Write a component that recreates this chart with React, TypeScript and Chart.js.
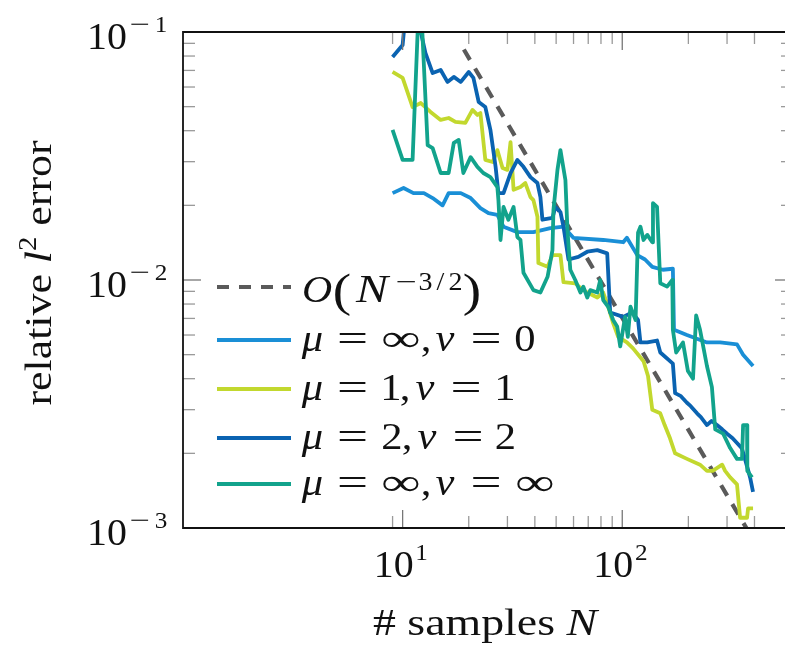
import { useEffect, useRef } from "react";
import { Chart, registerables } from "chart.js";

Chart.register(...registerables);

// ---------------- data ----------------
const refN = [19, 400];
const refErr = [0.085, 0.00088];

const infZeroN = [9.0, 10.1, 11.2, 12.5, 13.7, 15.2, 16.2, 18.4, 20.4, 22.6, 24.6, 27.0, 28.8, 33.3, 39.4, 47.1, 54.0, 59.9, 81.9, 101, 105, 117, 127, 137, 153, 170, 172, 197, 243, 279, 333, 355, 394];
const infZeroErr = [0.0224, 0.0235, 0.0224, 0.0224, 0.0214, 0.02, 0.0224, 0.0224, 0.0214, 0.0195, 0.0186, 0.0183, 0.0164, 0.0156, 0.0156, 0.0162, 0.0164, 0.0148, 0.0145, 0.0142, 0.0148, 0.0126, 0.0121, 0.0113, 0.011, 0.0111, 0.0063, 0.006, 0.0056, 0.0056, 0.0055, 0.005, 0.0045];

const oneOneN = [9.0, 10.0, 11.1, 12.1, 13.4, 14.9, 16.2, 17.4, 19.3, 20.8, 21.9, 22.6, 23.8, 25.7, 27.0, 28.5, 30.0, 31.0, 32.0, 34.4, 36.2, 38.2, 39.4, 41.1, 41.5, 45.7, 48.1, 52.3, 54.0, 61.1, 64.5, 69.3, 77.0, 81.9, 86.3, 90.9, 95.8, 105, 112, 125, 131, 137, 149, 156, 165, 174, 197, 226, 243, 258, 285, 294, 310, 333, 344, 370, 374, 394];
const oneOneErr = [0.069, 0.0653, 0.0498, 0.0517, 0.0476, 0.0442, 0.045, 0.0434, 0.043, 0.0485, 0.0463, 0.0471, 0.0305, 0.0299, 0.0334, 0.0283, 0.0278, 0.036, 0.0231, 0.0237, 0.0246, 0.0216, 0.021, 0.018, 0.0117, 0.0113, 0.0126, 0.0126, 0.0098, 0.0097, 0.0093, 0.0089, 0.0085, 0.0089, 0.0078, 0.0067, 0.0059, 0.0056, 0.0053, 0.0047, 0.0041, 0.003, 0.0029, 0.0026, 0.0023, 0.002, 0.0019, 0.0018, 0.0017, 0.0017, 0.0018, 0.0017, 0.0016, 0.0015, 0.0011, 0.0011, 0.0012, 0.0012];

const twoTwoN = [9.0, 10.0, 10.2, 11.1, 12.1, 12.7, 13.7, 14.9, 16.0, 17.1, 18.4, 20.0, 21.0, 22.2, 23.8, 25.1, 26.5, 27.3, 28.8, 31.0, 33.3, 35.5, 38.2, 41.1, 42.4, 43.3, 48.1, 49.6, 52.3, 54.0, 56.9, 63.1, 69.3, 77.0, 85.4, 88.1, 101, 111, 118, 121, 130, 144, 149, 170, 174, 185, 197, 205, 219, 228, 243, 255, 270, 285, 300, 318, 333, 350, 362, 382, 394];
const twoTwoErr = [0.0793, 0.0886, 0.107, 0.115, 0.1, 0.0823, 0.0683, 0.0703, 0.0629, 0.0659, 0.0629, 0.069, 0.0653, 0.0522, 0.0498, 0.0403, 0.0286, 0.0224, 0.0224, 0.027, 0.0305, 0.0286, 0.026, 0.0246, 0.0216, 0.0175, 0.0178, 0.0197, 0.0188, 0.0164, 0.0121, 0.0124, 0.013, 0.0132, 0.0128, 0.0074, 0.0071, 0.0074, 0.0069, 0.0056, 0.0056, 0.0057, 0.0051, 0.0046, 0.0035, 0.0034, 0.0032, 0.0031, 0.0029, 0.0028, 0.0026, 0.0027, 0.0026, 0.0025, 0.0024, 0.0023, 0.0022, 0.0021, 0.0019, 0.0016, 0.0014];

const infInfN = [9.0, 10.0, 11.1, 11.7, 12.3, 13.0, 13.7, 14.9, 16.2, 17.1, 18.0, 18.9, 20.4, 21.9, 23.3, 25.1, 27.0, 27.3, 27.9, 28.8, 30.3, 32.0, 33.3, 34.4, 35.5, 39.4, 42.4, 45.7, 48.1, 48.6, 50.7, 52.3, 55.1, 56.3, 58.0, 61.1, 64.5, 66.5, 69.3, 71.5, 77.0, 79.4, 81.9, 86.3, 90.9, 94.8, 97.9, 103, 106, 109, 115, 118, 121, 125, 130, 137, 138, 144, 149, 160, 169, 170, 176, 189, 199, 210, 217, 226, 231, 243, 256, 265, 288, 310, 333, 351, 355, 370, 371, 390];
const infInfErr = [0.0403, 0.0305, 0.0305, 0.0991, 0.0991, 0.035, 0.034, 0.027, 0.027, 0.0357, 0.0367, 0.027, 0.0313, 0.0286, 0.027, 0.026, 0.0237, 0.021, 0.0145, 0.0197, 0.0175, 0.0197, 0.0149, 0.0145, 0.0107, 0.0091, 0.0089, 0.0103, 0.0132, 0.0191, 0.0278, 0.0334, 0.0253, 0.0159, 0.011, 0.01, 0.0089, 0.0094, 0.0085, 0.0091, 0.0089, 0.01, 0.0083, 0.0078, 0.0069, 0.0065, 0.0054, 0.0071, 0.0059, 0.0078, 0.0069, 0.0155, 0.0164, 0.0145, 0.0152, 0.0142, 0.0204, 0.0197, 0.0097, 0.0094, 0.01, 0.0063, 0.0051, 0.0056, 0.0043, 0.004, 0.0072, 0.0063, 0.0057, 0.0045, 0.0037, 0.0025, 0.0024, 0.0021, 0.0019, 0.0019, 0.0026, 0.0026, 0.0017, 0.0016];

const seriesLabels = ["O(N^{-3/2})", "μ = ∞, ν = 0", "μ = 1, ν = 1", "μ = 2, ν = 2", "μ = ∞, ν = ∞"];
const seriesColors = ["#5a5a5a", "#1a8fd6", "#c2d82e", "#0a63b1", "#12a38c"];

const xMin = 1;
const xMax = 599;
const yMin = 0.001;
const yMax = 0.1;
const xMajorTicks = [10, 100];
const xMinorTicks = [9, 20, 30, 40, 50, 60, 70, 80, 90, 200, 300, 400];
const yMajorTicks = [0.01];
const yMinorTicks = [0.002, 0.003, 0.004, 0.005, 0.006, 0.007, 0.008, 0.009, 0.02, 0.03, 0.04, 0.05, 0.06, 0.07, 0.08, 0.09];
const xTickValues = [10, 100];
const xTickExps = ["1", "2"];
const yTickValues = [0.1, 0.01, 0.001];
const yTickExps = ["1", "2", "3"];
const xTitle = ["# samples ", "N"];
const yTitle = ["relative ", "l", "2", " error"];

// legend glyphs: [text, centre offset from text start, style]
const legendGlyphs: [string, number, string][][] = [
  [["O", 15, "i"], ["(", 40, "p"], ["N", 70, "i"], ["−", 104, "s"], ["3", 123.5, "s"], ["/", 138.5, "s"], ["2", 153.5, "s"], [")", 170, "p"]],
  [["μ", 10.5, "i"], ["=", 50.5, "r"], ["∞", 99, "r"], [",", 124, "r"], ["ν", 143, "i"], ["=", 184, "r"], ["0", 223, "r"]],
  [["μ", 10.5, "i"], ["=", 50.5, "r"], ["1", 89, "r"], [",", 103, "r"], ["ν", 123, "i"], ["=", 164, "r"], ["1", 203, "r"]],
  [["μ", 10.5, "i"], ["=", 50.5, "r"], ["2", 90, "r"], [",", 105, "r"], ["ν", 125, "i"], ["=", 166, "r"], ["2", 203.5, "r"]],
  [["μ", 10.5, "i"], ["=", 50.5, "r"], ["∞", 99, "r"], [",", 124, "r"], ["ν", 143, "i"], ["=", 184, "r"], ["∞", 233, "r"]],
];

// ---------------- drawing helpers ----------------
const FAM = '"Liberation Serif", "Times New Roman", serif';
const fnt = (size: number, italic?: boolean) => `${italic ? "italic " : ""}${size}px ${FAM}`;

function glyph(ctx: any, t: string, cx: number, by: number, size: number, italic = false, kx = 1, ky = 1) {
  ctx.save();
  ctx.translate(cx, by);
  ctx.scale(kx, ky);
  ctx.font = fnt(size, italic);
  ctx.textAlign = "center";
  ctx.textBaseline = "alphabetic";
  ctx.fillText(t, 0, 0);
  ctx.restore();
}

type Seg = { t: string; size: number; it?: boolean; dy?: number };
function drawRunFit(ctx: any, segs: Seg[], cx: number, by: number, targetW: number) {
  let w = 0;
  for (const s of segs) {
    ctx.font = fnt(s.size, s.it);
    w += ctx.measureText(s.t).width;
  }
  const k = targetW / w;
  ctx.save();
  ctx.translate(cx, by);
  ctx.scale(k, 1);
  ctx.textAlign = "left";
  ctx.textBaseline = "alphabetic";
  let x = -w / 2;
  for (const s of segs) {
    ctx.font = fnt(s.size, s.it);
    ctx.fillText(s.t, x, s.dy || 0);
    x += ctx.measureText(s.t).width;
  }
  ctx.restore();
}

const KX: Record<string, number> = { "=": 1.45, "∞": 1.45, "−": 1.5, "(": 1.2, ")": 1.2, N: 1.2, O: 1.1 };

const decorPlugin = {
  id: "decor",
  afterDraw(chart: any) {
    const { ctx, chartArea: a, scales } = chart;
    const xs = scales.x;
    const ys = scales.y;
    const L = a.left, R = a.right, T = a.top, B = a.bottom;
    ctx.save();
    const line = (x1: number, y1: number, x2: number, y2: number, c: string) => {
      ctx.strokeStyle = c;
      ctx.beginPath();
      ctx.moveTo(x1, y1);
      ctx.lineTo(x2, y2);
      ctx.stroke();
    };
    ctx.lineWidth = 1.3;
    const MINOR = "#9a9a9a";
    const MAJOR = "#777777";
    for (const v of xMinorTicks) {
      const x = xs.getPixelForValue(v);
      line(x, B, x, B - 12, MINOR);
      line(x, T, x, T + 12, MINOR);
    }
    for (const v of xMajorTicks) {
      const x = xs.getPixelForValue(v);
      line(x, B, x, B - 18, MAJOR);
      line(x, T, x, T + 18, MAJOR);
    }
    for (const v of yMinorTicks) {
      const y = ys.getPixelForValue(v);
      line(L, y, L + 12, y, MINOR);
      line(R - 12, y, R, y, MINOR);
    }
    for (const v of yMajorTicks) {
      const y = ys.getPixelForValue(v);
      line(L, y, L + 18, y, MAJOR);
      line(R - 18, y, R, y, MAJOR);
    }
    // frame
    ctx.lineWidth = 1.8;
    ctx.strokeStyle = "#111";
    ctx.beginPath();
    ctx.moveTo(R + 2, T);
    ctx.lineTo(L, T);
    ctx.lineTo(L, B);
    ctx.lineTo(R + 2, B);
    ctx.stroke();

    ctx.fillStyle = "#111";
    // x tick labels
    xTickValues.forEach((v, i) => {
      const x = xs.getPixelForValue(v);
      const by = B + 49;
      glyph(ctx, "10", x - 9, by, 38, false, 1.05);
      glyph(ctx, xTickExps[i], x + 19, by - 17, 24, false, 1.05);
    });
    // y tick labels
    yTickValues.forEach((v, i) => {
      const y = ys.getPixelForValue(v);
      const by = y + 16.5;
      const rx = L - 15;
      glyph(ctx, "10", rx - 61, by, 38, false, 1.05);
      glyph(ctx, "−", rx - 28, by - 17, 24, false, 1.5);
      glyph(ctx, yTickExps[i], rx - 7, by - 17, 24, false, 1.05);
    });
    // x title
    drawRunFit(ctx, [{ t: xTitle[0], size: 38 }, { t: xTitle[1], size: 38, it: true }], L + 302, B + 107, 224);
    // y title
    ctx.save();
    ctx.translate(L - 132, T + 241);
    ctx.rotate(-Math.PI / 2);
    drawRunFit(ctx, [
      { t: yTitle[0], size: 38 },
      { t: yTitle[1], size: 38, it: true },
      { t: yTitle[2], size: 25, dy: -15 },
      { t: yTitle[3], size: 38 },
    ], 0, 0, 265);
    ctx.restore();

    // legend
    const lineY = [255, 308, 357, 406, 452];
    const baseY = [270, 319, 368, 417, 463];
    const ds = chart.data.datasets;
    legendGlyphs.forEach((row, i) => {
      const d = ds[i];
      ctx.save();
      ctx.strokeStyle = d.borderColor;
      ctx.lineWidth = d.borderWidth;
      ctx.setLineDash(d.borderDash || []);
      ctx.beginPath();
      ctx.moveTo(L + 34, T + lineY[i]);
      ctx.lineTo(L + 108, T + lineY[i]);
      ctx.stroke();
      ctx.restore();
      const x0 = L + 119;
      const by = T + baseY[i];
      for (const [t, off, st] of row) {
        const kx = KX[t] ?? 1.12;
        if (st === "s") glyph(ctx, t, x0 + off, by - 12, 25, false, kx);
        else if (st === "p") glyph(ctx, t, x0 + off, by + 4, 46, false, kx);
        else if (st === "i") glyph(ctx, t, x0 + off, by, t === "N" ? 40 : 38, true, kx);
        else glyph(ctx, t, x0 + off, by, 38, false, kx);
      }
    });
    ctx.restore();
  },
};

const mk = (xs: number[], ys: number[]) => xs.map((x, i) => ({ x, y: ys[i] }));

export default function App() {
  const ref = useRef<HTMLCanvasElement>(null);
  useEffect(() => {
    const common = { pointRadius: 0, tension: 0, fill: false, clip: 0, borderJoinStyle: "round" as const, borderCapStyle: "butt" as const };
    const chart = new Chart(ref.current!, {
      type: "line",
      data: {
        datasets: [
          { ...common, label: seriesLabels[0], data: mk(refN, refErr), borderColor: seriesColors[0], borderWidth: 4.2, borderDash: [12, 10], order: 5 },
          { ...common, label: seriesLabels[1], data: mk(infZeroN, infZeroErr), borderColor: seriesColors[1], borderWidth: 3.8, order: 4 },
          { ...common, label: seriesLabels[2], data: mk(oneOneN, oneOneErr), borderColor: seriesColors[2], borderWidth: 3.8, order: 3 },
          { ...common, label: seriesLabels[3], data: mk(twoTwoN, twoTwoErr), borderColor: seriesColors[3], borderWidth: 3.8, order: 2 },
          { ...common, label: seriesLabels[4], data: mk(infInfN, infInfErr), borderColor: seriesColors[4], borderWidth: 3.8, order: 1 },
        ],
      },
      options: {
        animation: false,
        responsive: false,
        devicePixelRatio: 1,
        events: [],
        layout: { padding: { left: 175, top: 24, right: 0, bottom: 123 } },
        scales: {
          x: { type: "logarithmic", min: xMin, max: xMax, display: false },
          y: { type: "logarithmic", min: yMin, max: yMax, display: false },
        },
        plugins: { legend: { display: false }, tooltip: { enabled: false }, title: { display: false } },
      },
      plugins: [decorPlugin],
    } as any);
    return () => chart.destroy();
  }, []);
  return (
    <div style={{ width: 785, height: 643 }}>
      <canvas ref={ref} width={785} height={643} style={{ display: "block" }} />
    </div>
  );
}
